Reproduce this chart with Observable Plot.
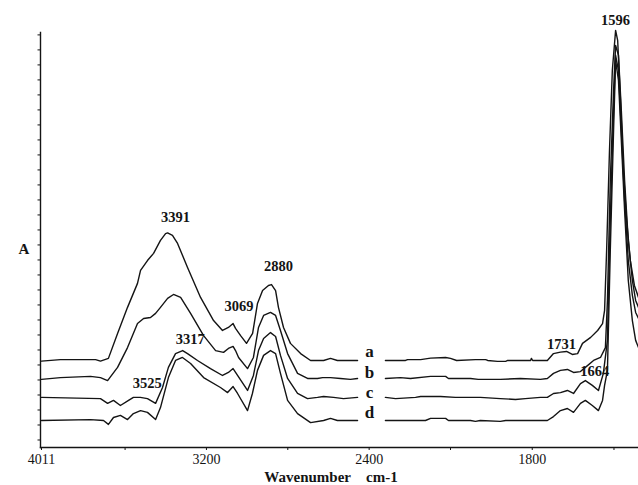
<!DOCTYPE html>
<html>
<head>
<meta charset="utf-8">
<script src="https://cdn.jsdelivr.net/npm/d3@7"></script>
<script src="https://cdn.jsdelivr.net/npm/@observablehq/plot@0.6"></script>
<style>
  body { margin: 0; background: #fff; }
</style>
</head>
<body>
<div id="chart"></div>
<script>
// FTIR spectra a–d: [wavenumber (cm-1), absorbance offset]; null marks the omitted CO2 window
const traceA = [
  [4011,0.288],[3918,0.293],[3745,0.293],[3721,0.288],[3682,0.297],[3637,0.380],[3588,0.467],[3539,0.547],
  [3524,0.590],[3490,0.623],[3460,0.647],[3426,0.690],[3401,0.713],[3391,0.715],[3367,0.707],[3342,0.680],
  [3293,0.600],[3229,0.500],[3165,0.423],[3121,0.390],[3092,0.400],[3069,0.413],[3057,0.397],[3032,0.373],
  [3003,0.347],[2973,0.380],[2949,0.480],[2924,0.523],[2895,0.540],[2880,0.543],[2860,0.523],[2846,0.467],
  [2821,0.400],[2787,0.347],[2737,0.313],[2688,0.290],[2624,0.290],[2590,0.297],[2556,0.290],[2457,0.290],
  [2390,null],
  [2320,0.290],[2221,0.290],[2211,0.293],[2147,0.293],[2098,0.298],[2024,0.300],[2000,0.297],[1985,0.290],
  [1939,0.293],[1914,0.293],[1909,0.290],[1885,0.287],[1865,0.287],[1860,0.290],[1804,0.290],[1802,0.297],
  [1799,0.290],[1763,0.290],[1748,0.313],[1731,0.318],[1716,0.320],[1702,0.310],[1689,0.313],[1677,0.347],
  [1657,0.367],[1640,0.390],[1628,0.413],[1623,0.457],[1618,0.657],[1611,0.990],[1604,1.257],[1596,1.390],
  [1591,1.357],[1584,1.157],[1577,0.923],[1569,0.757],[1560,0.623],[1550,0.540],[1540,0.500]
];
const traceB = [
  [4011,0.227],[3918,0.233],[3770,0.237],[3721,0.233],[3686,0.223],[3637,0.267],[3588,0.333],[3539,0.413],
  [3509,0.430],[3475,0.433],[3450,0.447],[3426,0.467],[3391,0.497],[3362,0.510],[3327,0.500],[3278,0.447],
  [3214,0.373],[3155,0.323],[3116,0.317],[3092,0.330],[3069,0.337],[3057,0.323],[3042,0.300],[2998,0.263],
  [2969,0.300],[2944,0.400],[2919,0.440],[2885,0.450],[2860,0.440],[2836,0.390],[2801,0.313],[2752,0.247],
  [2703,0.230],[2654,0.230],[2629,0.233],[2590,0.233],[2541,0.230],[2492,0.227],[2457,0.230],
  [2390,null],
  [2320,0.230],[2246,0.233],[2197,0.230],[2098,0.237],[2024,0.237],[2010,0.230],[1951,0.230],[1932,0.227],
  [1878,0.227],[1829,0.230],[1780,0.227],[1763,0.230],[1748,0.247],[1731,0.257],[1714,0.260],[1699,0.250],
  [1682,0.253],[1670,0.267],[1650,0.290],[1633,0.300],[1621,0.333],[1616,0.490],[1609,0.890],[1601,1.190],
  [1596,1.340],[1589,1.307],[1582,1.123],[1574,0.890],[1565,0.690],[1555,0.557],[1547,0.490],[1540,0.467]
];
const traceC = [
  [4011,0.167],[3721,0.163],[3686,0.147],[3657,0.157],[3623,0.140],[3583,0.157],[3559,0.167],[3525,0.167],
  [3490,0.163],[3450,0.147],[3416,0.200],[3387,0.267],[3352,0.313],[3317,0.323],[3293,0.313],[3244,0.290],
  [3180,0.263],[3121,0.240],[3092,0.250],[3069,0.263],[3047,0.240],[2998,0.190],[2969,0.240],[2944,0.323],
  [2919,0.363],[2885,0.383],[2860,0.370],[2836,0.307],[2801,0.230],[2752,0.180],[2703,0.163],[2654,0.167],
  [2624,0.170],[2575,0.167],[2526,0.163],[2457,0.167],
  [2390,null],
  [2320,0.167],[2270,0.163],[2172,0.167],[2147,0.170],[2049,0.170],[1988,0.167],[1927,0.167],[1878,0.163],
  [1841,0.160],[1817,0.163],[1780,0.167],[1763,0.167],[1748,0.180],[1731,0.183],[1714,0.190],[1699,0.180],
  [1682,0.213],[1670,0.223],[1653,0.207],[1638,0.190],[1626,0.247],[1616,0.357],[1609,0.757],[1601,1.123],
  [1596,1.307],[1589,1.257],[1582,1.057],[1574,0.823],[1565,0.623],[1555,0.507],[1547,0.450],[1540,0.430]
];
const traceD = [
  [4011,0.090],[3770,0.093],[3706,0.090],[3682,0.077],[3657,0.100],[3623,0.107],[3588,0.093],[3559,0.113],
  [3524,0.123],[3490,0.117],[3450,0.093],[3426,0.133],[3387,0.233],[3352,0.290],[3318,0.300],[3278,0.280],
  [3214,0.233],[3131,0.200],[3096,0.183],[3069,0.203],[3047,0.180],[2998,0.123],[2974,0.180],[2949,0.257],
  [2919,0.307],[2885,0.323],[2860,0.313],[2836,0.247],[2801,0.157],[2752,0.113],[2688,0.083],[2624,0.090],
  [2590,0.097],[2556,0.090],[2457,0.090],
  [2390,null],
  [2320,0.090],[2123,0.090],[2098,0.097],[2024,0.097],[2010,0.090],[1951,0.090],[1939,0.087],[1927,0.090],
  [1878,0.087],[1865,0.090],[1763,0.090],[1748,0.103],[1731,0.123],[1714,0.130],[1699,0.117],[1682,0.147],
  [1670,0.157],[1653,0.140],[1638,0.123],[1628,0.157],[1623,0.207],[1616,0.257],[1609,0.657],[1601,1.057],
  [1596,1.290],[1589,1.223],[1582,1.023],[1574,0.790],[1565,0.557],[1555,0.423],[1547,0.357],[1540,0.333]
];

const seriesNames = ["a", "b", "c", "d"];
const seriesLabelAt = 2398;

// annotated band positions and the trace each label sits on
const peakWavenumbers = [3391, 3069, 2880, 3525, 3317, 1731, 1664, 1596];
const peakSeries = ["a", "a", "a", "c", "c", "a", "b", "a"];

const majorTicks = [4011, 3200, 2400, 1800];
const minorTicks = [3600, 2800, 2000, 1600];

// ---- layout ----
const traces = {a: traceA, b: traceB, c: traceC, d: traceD};
const peakOffsets = {
  3391: [8, -10.5], 3069: [6, -13], 2880: [7, -14], 3525: [7, -9],
  3317: [7.5, -7], 1731: [1, -3.5], 1664: [7, 11], 1596: [0, -5]
};
const seriesOffsets = {a: -3, b: 0, c: 1, d: -2};
const ink = "#141414";
const font = "Liberation Serif, Times New Roman, serif";

function valueAt(trace, w) {
  for (let i = 0; i < trace.length - 1; i++) {
    const [w0, v0] = trace[i], [w1, v1] = trace[i + 1];
    if (v0 == null || v1 == null) continue;
    if ((w0 - w) * (w1 - w) <= 0) return w0 === w1 ? v0 : v0 + (v1 - v0) * (w - w0) / (w1 - w0);
  }
  return null;
}

const yTicks = d3.range(0.025, 1.383, 0.05);

const marks = [
  Plot.frame({anchor: "left", stroke: ink, strokeWidth: 1.4}),
  Plot.frame({anchor: "bottom", stroke: ink, strokeWidth: 1.4}),
  Plot.axisY({ticks: yTicks, tickSize: 2.5, tickFormat: () => "", label: null, stroke: ink}),
  Plot.axisX({ticks: majorTicks, tickSize: 3, tickPadding: 4, tickFormat: d => String(d),
              label: null, stroke: ink, fill: ink, fontSize: 14}),
  Plot.axisX({ticks: minorTicks, tickSize: 3, tickFormat: () => "", label: null, stroke: ink}),
  ...seriesNames.map(k => Plot.line(traces[k], {
    x: d => d[0], y: d => d[1], stroke: ink, strokeWidth: 1.4, strokeLinejoin: "round"
  })),
  ...seriesNames.map(k => Plot.text([k], {
    x: () => seriesLabelAt, y: () => valueAt(traces[k], 2457),
    text: d => d, lineAnchor: "bottom", dy: seriesOffsets[k],
    fontSize: 17, fontWeight: "bold", fill: ink
  })),
  ...peakWavenumbers.map((w, i) => Plot.text([w], {
    x: d => d, y: d => valueAt(traces[peakSeries[i]], d),
    text: d => String(d), lineAnchor: "bottom",
    dx: peakOffsets[w][0], dy: peakOffsets[w][1],
    fontSize: 14.5, fontWeight: "bold", fill: ink
  })),
  Plot.text(["A"], {frameAnchor: "left", dx: -22, dy: 9, fontSize: 15, fontWeight: "bold", fill: ink}),
  Plot.text(["Wavenumber\u00a0\u00a0\u00a0\u00a0cm-1"], {
    frameAnchor: "bottom", lineAnchor: "bottom", dx: -8.5, dy: 34,
    fontSize: 15, fontWeight: "bold", fill: ink
  })
];

const chart = Plot.plot({
  width: 638,
  height: 485,
  marginLeft: 40,
  marginRight: 0,
  marginTop: 32,
  marginBottom: 38,
  style: {fontFamily: font, fontSize: "14px", color: ink, background: "#fff", overflow: "visible"},
  x: {type: "linear", domain: [4011, 2000, 1540], range: [41, 450, 638]},
  y: {domain: [0, 1.383]},
  marks
});

document.getElementById("chart").appendChild(chart);
</script>
</body>
</html>
